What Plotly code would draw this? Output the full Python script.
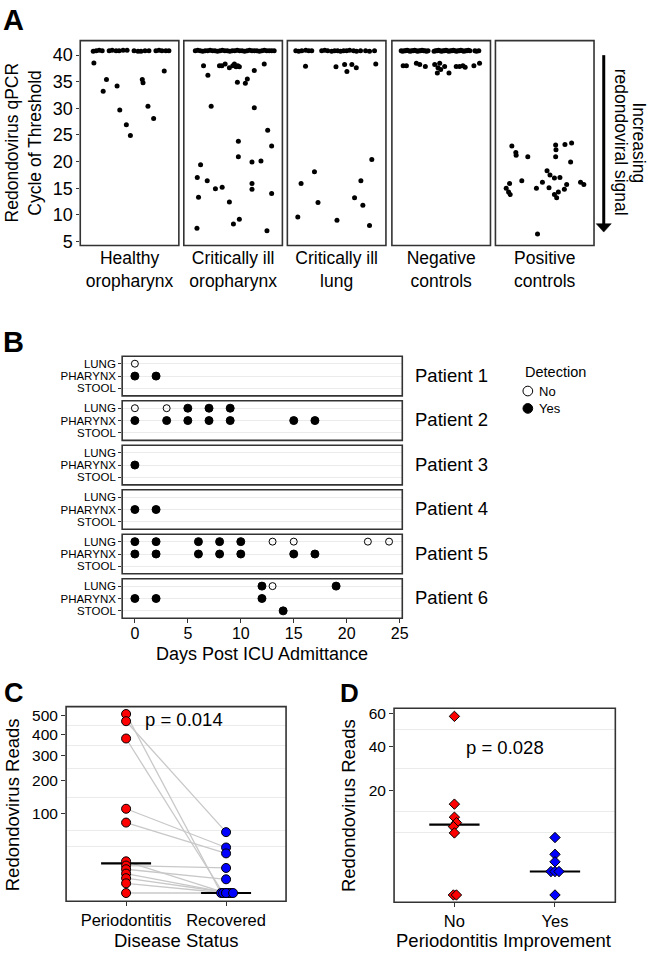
import numpy as np
import plotly.graph_objects as go

W, H = 657, 960
FONT = "Liberation Sans, Arial, Helvetica, sans-serif"

# ---------------- Panel A data (Ct values; x = jittered position inside facet) ----------------
a_categories = ["Healthy<br>oropharynx", "Critically ill<br>oropharynx", "Critically ill<br>lung",
                "Negative<br>controls", "Positive<br>controls"]
a_ticks = [5, 10, 15, 20, 25, 30, 35, 40]

healthy_x = [0.558, 0.594, 0.630, 0.667, 0.752, 0.788, 0.836, 0.873, 0.921, 0.970, 1.055, 1.103, 1.139,
             1.188, 1.236, 1.321, 1.358, 1.394, 1.442, 1.479,
             0.566, 0.719, 0.679, 0.848, 0.881, 0.961, 1.010, 1.155, 1.164, 1.224, 1.293, 1.422]
healthy_ct = [40.7, 40.8, 40.9, 40.8, 40.8, 40.9, 40.8, 40.8, 40.9, 40.9, 40.8, 40.7, 40.7,
              40.8, 40.8, 40.8, 40.9, 40.8, 40.8, 40.8,
              38.5, 35.4, 33.2, 34.2, 29.7, 26.9, 24.9, 35.4, 34.8, 30.4, 28.1, 37.0]

crit_oro_x = [0.54, 0.57, 0.60, 0.63, 0.66, 0.69, 0.72, 0.75, 0.78, 0.81, 0.84, 0.87, 0.90, 0.93, 0.96,
              0.99, 1.02, 1.05, 1.08, 1.11, 1.14, 1.17, 1.20, 1.23, 1.26, 1.29, 1.32, 1.35, 1.38, 1.41,
              1.44, 1.47, 1.50,
              0.640, 0.693, 0.834, 0.863, 0.903, 0.955, 0.996, 1.016, 1.036, 1.057, 1.076, 1.052, 1.149,
              1.173, 1.258, 1.379,
              0.733, 1.258, 1.421, 1.064, 1.469, 1.064, 0.604, 1.230, 1.339, 0.564, 0.685, 1.230, 1.230,
              0.785, 0.867, 1.469, 0.579, 0.955, 1.076, 1.004, 0.560, 1.412]
crit_oro_ct = [40.8, 40.9, 40.8, 40.7, 40.8, 40.8, 40.9, 40.8, 40.8, 40.7, 40.8, 40.9, 40.8, 40.8, 40.7,
               40.8, 40.8, 40.9, 40.8, 40.8, 40.7, 40.8, 40.9, 40.8, 40.8, 40.8, 40.7, 40.8, 40.9, 40.8,
               40.8, 40.8, 40.8,
               38.0, 36.2, 38.0, 38.0, 38.3, 37.6, 38.0, 38.3, 37.8, 38.0, 37.8, 34.9, 34.7,
               35.5, 37.1, 38.3,
               30.4, 30.1, 25.9, 23.8, 22.9, 20.9, 19.4, 19.9, 20.1, 17.0, 16.4, 15.9, 14.8,
               14.9, 15.2, 14.0, 13.3, 12.4, 9.2, 8.3, 7.5, 7.0]

crit_lung_x = [0.503, 0.539, 0.576, 0.624, 0.661, 0.697, 0.818, 0.855, 0.891, 0.939, 0.976, 1.012, 1.048,
               1.085, 1.121, 1.158, 1.206, 1.242, 1.291, 1.352, 1.400, 1.461,
               0.621, 0.992, 1.097, 1.125, 1.185, 1.239, 1.476, 1.428, 0.730, 0.567, 1.295, 1.218, 0.773,
               1.319, 0.527, 1.004, 1.400]
crit_lung_ct = [40.8, 40.7, 40.8, 40.9, 40.8, 40.8, 40.8, 40.9, 40.8, 40.7, 40.8, 40.8, 40.7,
                40.8, 40.8, 40.9, 40.8, 40.7, 40.8, 40.8, 40.7, 40.8,
                37.9, 37.8, 38.2, 36.9, 38.2, 37.6, 38.3, 20.4, 18.1, 15.9, 16.4, 13.2, 12.3,
                11.8, 9.6, 9.0, 8.0]

neg_x = [0.513, 0.531, 0.549, 0.567, 0.585, 0.604, 0.622, 0.640, 0.658, 0.676, 0.695, 0.713, 0.731, 0.749,
         0.767, 0.786, 0.804, 0.822, 0.840, 0.913, 0.931, 0.949, 0.967, 0.985, 1.004, 1.022, 1.040, 1.058,
         1.076, 1.094, 1.113, 1.131, 1.149, 1.167, 1.186, 1.204, 1.222, 1.240, 1.258, 1.276, 1.295, 1.313,
         1.331, 1.349, 1.410, 1.430, 1.458,
         0.537, 0.577, 0.698, 0.739, 0.807, 0.921, 0.982, 0.961, 0.994, 0.953, 1.042, 1.095, 1.183, 1.224,
         1.264, 1.292, 1.398, 1.467]
neg_ct = [40.8, 40.7, 40.8, 40.8, 40.9, 40.8, 40.7, 40.8, 40.8, 40.9, 40.8, 40.7, 40.8, 40.8,
          40.9, 40.8, 40.8, 40.7, 40.8, 40.7, 40.8, 40.8, 40.9, 40.8, 40.7, 40.8, 40.8, 40.9,
          40.8, 40.7, 40.8, 40.8, 40.9, 40.8, 40.7, 40.8, 40.8, 40.9, 40.8, 40.7, 40.8, 40.8,
          40.9, 40.8, 40.8, 40.7, 40.8,
          38.0, 38.0, 38.46, 38.2, 37.85, 38.2, 38.46, 37.6, 37.3, 36.6, 37.85, 36.6, 37.85, 37.85,
          38.0, 37.7, 38.0, 38.46]

pos_x = [0.600, 0.648, 0.652, 0.794, 1.133, 1.137, 1.133, 1.246, 1.327, 1.315, 1.028, 1.064, 1.118, 1.185,
         0.721, 0.972, 1.267, 1.436, 1.476, 0.572, 0.531, 0.899, 1.052, 1.239, 1.166, 0.560, 0.579, 1.118,
         1.145, 0.912]
pos_ct = [22.9, 21.7, 21.2, 20.9, 23.1, 22.2, 20.9, 23.2, 23.5, 19.9, 18.3, 17.5, 16.9, 17.0,
          16.4, 16.1, 15.7, 16.1, 15.7, 15.9, 15.0, 15.0, 15.1, 14.8, 14.3, 14.3, 13.8, 13.8,
          13.2, 6.4]

# ---------------- Panel B data ----------------
b_patients = ["Patient 1", "Patient 2", "Patient 3", "Patient 4", "Patient 5", "Patient 6"]
b_samples = ["STOOL", "PHARYNX", "LUNG"]
b_patient = [1, 1, 1,
             2, 2, 2, 2, 2, 2, 2, 2, 2, 2, 2, 2,
             3,
             4, 4,
             5, 5, 5, 5, 5, 5, 5, 5, 5, 5, 5, 5, 5, 5, 5, 5,
             6, 6, 6, 6, 6, 6, 6]
b_sample = ["LUNG", "PHARYNX", "PHARYNX",
            "LUNG", "LUNG", "LUNG", "LUNG", "LUNG", "PHARYNX", "PHARYNX", "PHARYNX", "PHARYNX", "PHARYNX",
            "PHARYNX", "PHARYNX",
            "PHARYNX",
            "PHARYNX", "PHARYNX",
            "LUNG", "LUNG", "LUNG", "LUNG", "LUNG", "LUNG", "LUNG", "LUNG", "LUNG",
            "PHARYNX", "PHARYNX", "PHARYNX", "PHARYNX", "PHARYNX", "PHARYNX", "PHARYNX",
            "LUNG", "LUNG", "LUNG", "PHARYNX", "PHARYNX", "PHARYNX", "STOOL"]
b_day = [0, 0, 2,
         0, 3, 5, 7, 9, 0, 3, 5, 7, 9, 15, 17,
         0,
         0, 2,
         0, 2, 6, 8, 10, 13, 15, 22, 24, 0, 2, 6, 8, 10, 15, 17,
         12, 13, 19, 0, 2, 12, 14]
b_detected = ["No", "Yes", "Yes",
              "No", "No", "Yes", "Yes", "Yes", "Yes", "Yes", "Yes", "Yes", "Yes", "Yes", "Yes",
              "Yes",
              "Yes", "Yes",
              "Yes", "Yes", "Yes", "Yes", "Yes", "No", "No", "No", "No",
              "Yes", "Yes", "Yes", "Yes", "Yes", "Yes", "Yes",
              "Yes", "No", "Yes", "Yes", "Yes", "Yes", "Yes"]
b_xticks = [0, 5, 10, 15, 20, 25]

# ---------------- Panel C data ----------------
c_groups = ["Periodontitis", "Recovered"]
c_perio = [510, 470, 380, 113, 79, 16, 12, 9, 6, 3.5, 1.5, 0]
c_perio_x = [1.0, 1.0, 1.0, 1.0, 1.0, 1.0, 1.0, 1.0, 1.0, 1.0, 1.0, 1.0]
c_recov = [0, 59, 0, 33, 25, 0, 10, 3, 0, 0, 0, 0]
c_recov_x = [1.95, 2.0, 1.97, 2.0, 2.0, 2.0, 2.0, 2.0, 2.03, 2.05, 2.0, 2.07]
c_ticks = [100, 200, 300, 400, 500]
c_grid = [448.6, 348.2, 247.4, 145.7, 62.6, 34.0]

# ---------------- Panel D data ----------------
d_groups = ["No", "Yes"]
d_no = [58, 15, 11, 9.5, 8.5, 7, 0, 0]
d_no_x = [1.0, 1.0, 1.0, 1.02, 0.99, 1.0, 0.99, 1.02]
d_yes = [6, 3, 2, 1, 1, 1, 0]
d_yes_x = [2.0, 2.0, 2.0, 1.96, 2.0, 2.04, 2.0]
d_ticks = [20, 40, 60]
d_grid = [49.6, 28.9, 12.7, 7.0]


def PX(p):
    return p / W


def PY(p):
    return 1 - p / H


fig = go.Figure()
layout = dict(width=W, height=H, margin=dict(l=0, r=0, t=0, b=0),
              paper_bgcolor="white", plot_bgcolor="white", showlegend=False,
              hovermode=False, font=dict(family=FONT, color="black"))
shapes = []
annotations = []
FRAME = dict(color="#333333", width=1.6)


def frame(x0, x1, y0, y1):
    shapes.append(dict(type="rect", xref="paper", yref="paper", x0=PX(x0), x1=PX(x1),
                       y0=PY(y1), y1=PY(y0), line=FRAME, layer="above"))


def text(t, x, y, size, angle=0, bold=False, xanchor="center"):
    if bold:
        t = "<b>" + t + "</b>"
    annotations.append(dict(text=t, x=PX(x), y=PY(y), xref="paper", yref="paper",
                            showarrow=False, textangle=angle, xanchor=xanchor, yanchor="middle",
                            font=dict(size=size, family=FONT, color="black")))


# ---------------- Panel A ----------------
a_xs = [healthy_x, crit_oro_x, crit_lung_x, neg_x, pos_x]
a_cts = [healthy_ct, crit_oro_ct, crit_lung_ct, neg_ct, pos_ct]
a_left = [81, 185.5, 290, 395.5, 500]
a_w = 99.5
a_top, a_bot = 37, 244
for i in range(5):
    name = "xaxis" if i == 0 else f"xaxis{i+1}"
    ref = "x" if i == 0 else f"x{i+1}"
    layout[name] = dict(domain=[PX(a_left[i]), PX(a_left[i] + a_w)], range=[0.4, 1.6],
                        tickvals=[1], ticktext=[a_categories[i]], ticks="", showgrid=False,
                        zeroline=False, anchor="y", tickfont=dict(size=17.5), fixedrange=True)
    fig.add_trace(go.Scatter(x=a_xs[i], y=a_cts[i], mode="markers", xaxis=ref, yaxis="y",
                             marker=dict(color="black", size=5)))
    frame(a_left[i], a_left[i] + a_w, a_top, a_bot)
layout["yaxis"] = dict(domain=[PY(a_bot), PY(a_top)], range=[4.26, 42.7], tickvals=a_ticks,
                       ticks="outside", ticklen=3, tickcolor="#333", showgrid=False, zeroline=False,
                       anchor="x", tickfont=dict(size=18))
text("Redondovirus qPCR", 12, 140, 17.5, angle=-90)
text("Cycle of Threshold", 34.5, 140, 17.5, angle=-90)
text("Increasing", 645, 140, 17.5, angle=90)
text("redondoviral signal", 627.5, 140, 17.5, angle=90)
text("A", 14, 16, 29, bold=True)
# arrow
shapes.append(dict(type="line", xref="paper", yref="paper", x0=PX(609.3), x1=PX(609.3),
                   y0=PY(51.7), y1=PY(223), line=dict(color="black", width=3)))
shapes.append(dict(type="path", xref="paper", yref="paper",
                   path=f"M {PX(601.7)},{PY(222)} L {PX(616.9)},{PY(222)} L {PX(609.3)},{PY(230.5)} Z",
                   fillcolor="black", line=dict(color="black", width=0.5)))

# ---------------- Panel B ----------------
b_left, b_right = 123.3, 406
b_top0, b_step, b_h = 356, 44.95, 40
layout["xaxis6"] = dict(domain=[PX(b_left), PX(b_right)], range=[-1.2, 25.25], tickvals=b_xticks,
                        ticks="outside", ticklen=4, tickcolor="#333", showgrid=False, zeroline=False,
                        anchor="y7", tickfont=dict(size=16), ticklabelstandoff=-3)
for k in range(6):
    top = b_top0 + b_step * k
    bot = top + b_h
    yname = f"yaxis{k+2}"
    yref = f"y{k+2}"
    layout[yname] = dict(domain=[PY(bot), PY(top)], range=[0.4, 3.6], tickvals=[1, 2, 3],
                         ticktext=b_samples, ticks="outside", ticklen=3, tickcolor="#333",
                         showgrid=True, gridcolor="#ebebeb", gridwidth=1, zeroline=False,
                         anchor="x6", tickfont=dict(size=11.5))
    for det, sym, size in [("No", "circle-open", 7), ("Yes", "circle", 8)]:
        xs = [d for p, d, dd in zip(b_patient, b_day, b_detected) if p == k + 1 and dd == det]
        ys = [b_samples.index(s) + 1 for p, s, dd in zip(b_patient, b_sample, b_detected)
              if p == k + 1 and dd == det]
        if xs:
            fig.add_trace(go.Scatter(x=xs, y=ys, mode="markers", xaxis="x6", yaxis=yref,
                                     marker=dict(symbol=sym, color="black", size=size,
                                                 line=dict(color="black", width=1))))
    frame(b_left, b_right, top, bot)
    text(b_patients[k], 417, top + b_h / 2 - 1, 18.5, xanchor="left")
text("Days Post ICU Admittance", 264.7, 657, 18)
text("B", 14, 342, 29, bold=True)
# legend
text("Detection", 528.3, 372, 14.5, xanchor="left")
text("No", 541.5, 391.5, 13, xanchor="left")
text("Yes", 541.5, 409, 13, xanchor="left")
shapes.append(dict(type="circle", xref="paper", yref="paper", x0=PX(527.8), x1=PX(537.6),
                   y0=PY(396), y1=PY(386.2), line=dict(color="black", width=1), fillcolor="white"))
shapes.append(dict(type="circle", xref="paper", yref="paper", x0=PX(527.8), x1=PX(537.6),
                   y0=PY(413.6), y1=PY(403.8), line=dict(color="black", width=1), fillcolor="black"))

# ---------------- Panel C ----------------
c_l, c_r, c_t, c_b = 66.7, 288.7, 710, 906.7
layout["xaxis7"] = dict(domain=[PX(c_l), PX(c_r)], range=[0.4, 2.6], tickvals=[1, 2],
                        ticktext=c_groups, ticks="outside", ticklen=4, tickcolor="#333",
                        showgrid=False, zeroline=False, anchor="y8", tickfont=dict(size=16.5))
layout["yaxis8"] = dict(domain=[PY(c_b), PY(c_t)], range=[-1.04, 23.52],
                        tickvals=list(np.sqrt(c_ticks)), ticktext=[str(t) for t in c_ticks],
                        ticks="outside", ticklen=4, tickcolor="#333", showgrid=False, zeroline=False,
                        anchor="x7", tickfont=dict(size=15.5),
                        minor=dict(tickmode="array", tickvals=list(np.sqrt(c_grid)), showgrid=True,
                                   gridcolor="#ebebeb", gridwidth=1.2, ticks=""))
lx, ly = [], []
for a, ax_, b, bx in zip(c_perio, c_perio_x, c_recov, c_recov_x):
    lx += [ax_, bx, None]
    ly += [np.sqrt(a), np.sqrt(b), None]
fig.add_trace(go.Scatter(x=lx, y=ly, mode="lines", xaxis="x7", yaxis="y8",
                         line=dict(color="#c8c8c8", width=1.3)))
for pos, vals in [(1, c_perio), (2, c_recov)]:
    m = np.sqrt(np.median(vals))
    fig.add_trace(go.Scatter(x=[pos - 0.25, pos + 0.25], y=[m, m], mode="lines", xaxis="x7",
                             yaxis="y8", line=dict(color="black", width=2.2)))
fig.add_trace(go.Scatter(x=c_perio_x, y=np.sqrt(c_perio), mode="markers", xaxis="x7", yaxis="y8",
                         marker=dict(color="#ff0000", size=9, line=dict(color="black", width=1))))
fig.add_trace(go.Scatter(x=c_recov_x, y=np.sqrt(c_recov), mode="markers", xaxis="x7", yaxis="y8",
                         marker=dict(color="#0000ff", size=9, line=dict(color="black", width=1))))
frame(c_l, c_r, c_t, c_b)
text("p = 0.014", 185.3, 722.7, 18.5)
text("Redondovirus Reads", 12.5, 809.3, 18.5, angle=-90)
text("Disease Status", 177.7, 946.7, 18.5)
text("C", 14.5, 696.3, 27, bold=True)

# ---------------- Panel D ----------------
d_l, d_r, d_t, d_b = 397.7, 621, 711.7, 907.7
layout["xaxis8"] = dict(domain=[PX(d_l), PX(d_r)], range=[0.4, 2.6], tickvals=[1, 2],
                        ticktext=d_groups, ticks="outside", ticklen=4, tickcolor="#333",
                        showgrid=False, zeroline=False, anchor="y9", tickfont=dict(size=16.5))
layout["yaxis9"] = dict(domain=[PY(d_b), PY(d_t)], range=[-0.31, 7.96],
                        tickvals=list(np.sqrt(d_ticks)), ticktext=[str(t) for t in d_ticks],
                        ticks="outside", ticklen=4, tickcolor="#333", showgrid=False, zeroline=False,
                        anchor="x8", tickfont=dict(size=15.5),
                        minor=dict(tickmode="array", tickvals=list(np.sqrt(d_grid)), showgrid=True,
                                   gridcolor="#ebebeb", gridwidth=1.2, ticks=""))
for pos, vals in [(1, d_no), (2, d_yes)]:
    m = np.sqrt(np.median(vals))
    fig.add_trace(go.Scatter(x=[pos - 0.25, pos + 0.25], y=[m, m], mode="lines", xaxis="x8",
                             yaxis="y9", line=dict(color="black", width=2.2)))
fig.add_trace(go.Scatter(x=d_no_x, y=np.sqrt(d_no), mode="markers", xaxis="x8", yaxis="y9",
                         marker=dict(symbol="diamond", color="#ff0000", size=8,
                                     line=dict(color="black", width=1))))
fig.add_trace(go.Scatter(x=d_yes_x, y=np.sqrt(d_yes), mode="markers", xaxis="x8", yaxis="y9",
                         marker=dict(symbol="diamond", color="#0000ff", size=8,
                                     line=dict(color="black", width=1))))
frame(d_l, d_r, d_t, d_b)
text("p = 0.028", 509.3, 751, 18.5)
text("Redondovirus Reads", 351.7, 810, 18.5, angle=-90)
text("Periodontitis Improvement", 508.3, 946.7, 18.5)
text("D", 353, 696, 26, bold=True)

layout["shapes"] = shapes
layout["annotations"] = annotations
fig.update_layout(**layout)
fig.write_html("out.html", config={"displayModeBar": False},
               post_script="document.body.style.margin='0px';")
